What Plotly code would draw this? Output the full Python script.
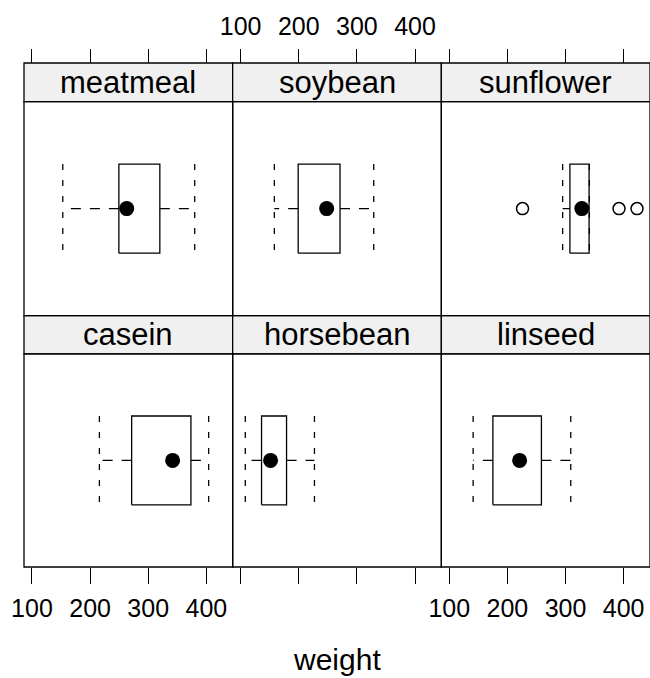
import plotly.graph_objects as go

# chickwts box statistics, panel order as drawn (top row, then bottom row)
feeds = ["meatmeal", "soybean", "sunflower", "casein", "horsebean", "linseed"]
lower_whisker = [153, 158, 295, 216, 108, 141]
lower_hinge = [249.5, 199, 307.5, 271.5, 136, 175]
medians = [263, 248, 328, 342, 151.5, 221]
upper_hinge = [320, 271, 340.5, 373.5, 179, 258.5]
upper_whisker = [380, 329, 341, 404, 227, 309]
outliers = {"sunflower": [226, 392, 423]}
x_ticks = [100, 200, 300, 400]

X_RANGE = [86.3, 445.3]
Y_RANGE = [0.4, 1.6]
HALF = 0.25          # half box height (box.ratio = 1)
LW = 1.3
FONT = "Liberation Sans, Arial, Helvetica, sans-serif"

# vertical layout (paper fractions): panel and strip for each row
panel_dom = [[0.4989, 0.9233], [0.0, 0.4230]]
strip_dom = [[0.9233, 1.0], [0.4230, 0.4989]]

fig = go.Figure()
shapes = []
annotations = []

for i, feed in enumerate(feeds):
    r, c = divmod(i, 3)
    n = i + 1
    xa = "x" if n == 1 else "x%d" % n
    ya = "y" if n == 1 else "y%d" % n

    lo, q1, md, q3, hi = lower_whisker[i], lower_hinge[i], medians[i], upper_hinge[i], upper_whisker[i]

    # dashed whiskers
    fig.add_trace(go.Scatter(
        x=[q1, lo, None, q3, hi], y=[1, 1, None, 1, 1],
        mode="lines", line=dict(color="black", width=LW, dash="10px,9px"),
        xaxis=xa, yaxis=ya, showlegend=False, hoverinfo="skip"))
    # whisker end lines
    fig.add_trace(go.Scatter(
        x=[lo, lo, None, hi, hi], y=[1 + HALF, 1 - HALF, None, 1 + HALF, 1 - HALF],
        mode="lines", line=dict(color="black", width=LW, dash="6px,10px"),
        xaxis=xa, yaxis=ya, showlegend=False, hoverinfo="skip"))
    # box
    fig.add_trace(go.Scatter(
        x=[q1, q3, q3, q1, q1], y=[1 - HALF, 1 - HALF, 1 + HALF, 1 + HALF, 1 - HALF],
        mode="lines", line=dict(color="black", width=LW),
        xaxis=xa, yaxis=ya, showlegend=False, hoverinfo="skip"))
    # median dot
    fig.add_trace(go.Scatter(
        x=[md], y=[1], mode="markers",
        marker=dict(symbol="circle", size=15, color="black"),
        xaxis=xa, yaxis=ya, showlegend=False))
    # outliers
    if feed in outliers:
        pts = outliers[feed]
        fig.add_trace(go.Scatter(
            x=pts, y=[1] * len(pts), mode="markers",
            marker=dict(symbol="circle-open", size=12, color="black", line=dict(width=1.5)),
            xaxis=xa, yaxis=ya, showlegend=False))

    xdom = [c / 3, (c + 1) / 3]
    xaxis = dict(domain=xdom, range=X_RANGE, tickvals=x_ticks, ticks="outside",
                 tickwidth=LW, tickcolor="black", showgrid=False, zeroline=False,
                 showline=False, tickfont=dict(size=25, color="black", family=FONT))
    if r == 0:
        xaxis.update(anchor="free", position=1, side="top", ticklen=14,
                     showticklabels=(c == 1), ticklabelstandoff=4)
    else:
        xaxis.update(anchor=ya, side="bottom", ticklen=16,
                     showticklabels=(c != 1), ticklabelstandoff=3)
    yaxis = dict(domain=panel_dom[r], range=Y_RANGE, anchor=xa, visible=False)
    fig.layout["xaxis" if n == 1 else "xaxis%d" % n] = xaxis
    fig.layout["yaxis" if n == 1 else "yaxis%d" % n] = yaxis

    # strip
    shapes.append(dict(type="rect", xref="paper", yref="paper",
                       x0=xdom[0], x1=xdom[1], y0=strip_dom[r][0], y1=strip_dom[r][1],
                       fillcolor="#F0F0F0", line=dict(color="black", width=LW), layer="below"))
    # panel border
    shapes.append(dict(type="rect", xref="paper", yref="paper",
                       x0=xdom[0], x1=xdom[1], y0=panel_dom[r][0], y1=panel_dom[r][1],
                       line=dict(color="black", width=LW)))
    annotations.append(dict(text=feed, xref="paper", yref="paper",
                            x=(xdom[0] + xdom[1]) / 2, y=sum(strip_dom[r]) / 2,
                            xanchor="center", yanchor="middle", showarrow=False,
                            font=dict(size=31, color="black", family=FONT)))

annotations.append(dict(text="weight", xref="paper", yref="paper", x=0.5, y=-0.184,
                        xanchor="center", yanchor="middle", showarrow=False,
                        font=dict(size=30, color="black", family=FONT)))

fig.update_layout(
    width=650, height=678,
    margin=dict(l=24, r=0, t=63, b=111),
    paper_bgcolor="white", plot_bgcolor="white",
    shapes=shapes, annotations=annotations,
    font=dict(family=FONT, color="black"),
)

# drop the default page margin so the figure fills the window exactly
fig.write_html("out.html", config={"displayModeBar": False},
               post_script="document.body.style.margin='0';document.body.style.overflow='hidden';")
